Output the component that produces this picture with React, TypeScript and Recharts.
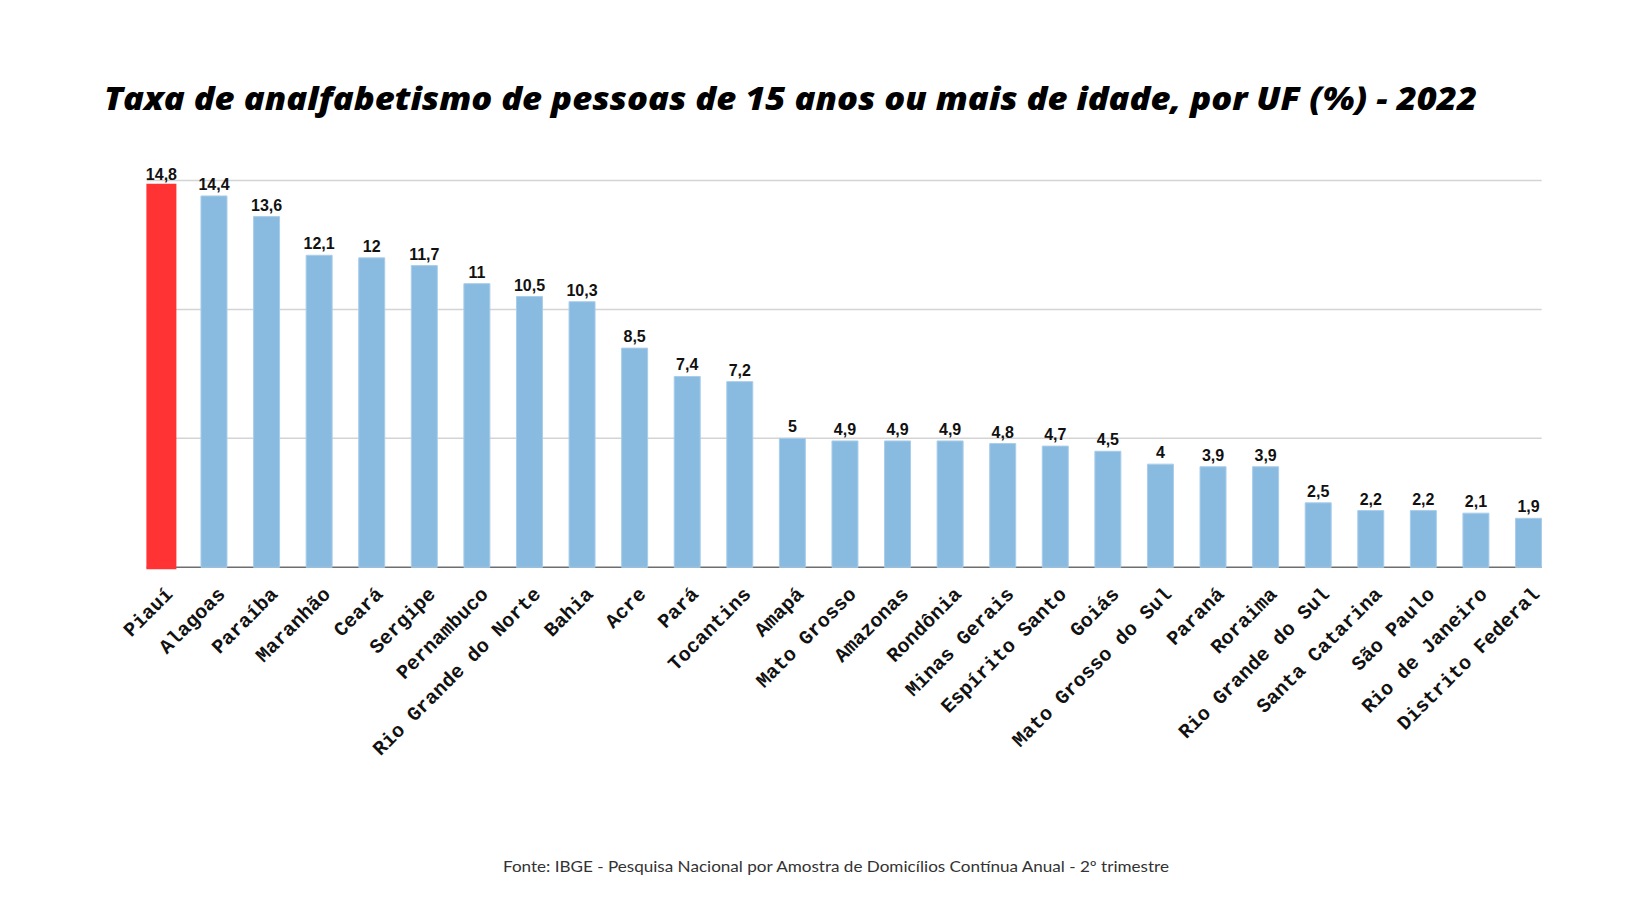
import React from 'react';
import { BarChart, Bar, XAxis, YAxis, CartesianGrid, Cell, LabelList } from 'recharts';

const titulo = 'Taxa de analfabetismo de pessoas de 15 anos ou mais de idade, por UF (%) - 2022';
const fonte = 'Fonte: IBGE -  Pesquisa Nacional por Amostra de Domicílios Contínua Anual - 2º trimestre';

const estados = [
  'Piauí', 'Alagoas', 'Paraíba', 'Maranhão', 'Ceará', 'Sergipe', 'Pernambuco',
  'Rio Grande do Norte', 'Bahia', 'Acre', 'Pará', 'Tocantins', 'Amapá', 'Mato Grosso',
  'Amazonas', 'Rondônia', 'Minas Gerais', 'Espírito Santo', 'Goiás', 'Mato Grosso do Sul',
  'Paraná', 'Roraima', 'Rio Grande do Sul', 'Santa Catarina', 'São Paulo',
  'Rio de Janeiro', 'Distrito Federal',
];

const taxas = [
  14.8, 14.4, 13.6, 12.1, 12, 11.7, 11, 10.5, 10.3, 8.5, 7.4, 7.2, 5, 4.9,
  4.9, 4.9, 4.8, 4.7, 4.5, 4, 3.9, 3.9, 2.5, 2.2, 2.2, 2.1, 1.9,
];

const yTicks = [0, 5, 10, 15];
const destaque = 'Piauí';

const data = estados.map((uf, i) => ({ uf, taxa: taxas[i] }));

const formatTaxa = (v: number) => String(v).replace('.', ',');

function UfTick(props: any) {
  const { x, y, payload } = props;
  const ax = x + 12;
  const ay = y + 28;
  return (
    <text
      x={ax}
      y={ay}
      transform={`rotate(-45, ${ax}, ${ay})`}
      textAnchor="end"
      fill="#111"
      style={{ fontFamily: '"Liberation Mono", monospace', fontSize: '20px', fontWeight: 700 }}
    >
      {payload.value}
    </text>
  );
}

export default function App() {
  return (
    <div style={{ position: 'absolute', left: 0, top: 0, width: 1640, height: 924, background: '#fff' }}>
      <BarChart
        width={1640}
        height={924}
        data={data}
        margin={{ top: 180.5, right: 84.9, left: 135.4, bottom: 206.7 }}
      >
        <CartesianGrid
          x={146.7}
          width={1395}
          vertical={false}
          horizontalValues={[5, 10, 15]}
          stroke="#d4d4d4"
          strokeWidth={1.5}
        />
        <CartesianGrid
          x={146.7}
          width={1395}
          vertical={false}
          horizontalValues={[0]}
          stroke="#6e6e6e"
          strokeWidth={1.5}
        />
        <XAxis
          dataKey="uf"
          interval={0}
          height={150}
          axisLine={false}
          tickLine={false}
          tickSize={0}
          tickMargin={0}
          tick={<UfTick />}
        />
        <YAxis hide domain={[0, 15]} ticks={yTicks} />
        <Bar dataKey="taxa" barSize={26} isAnimationActive={false}>
          {data.map((d) => (
            <Cell
              key={d.uf}
              fill={d.uf === destaque ? '#ff3333' : '#89bbe0'}
              stroke={d.uf === destaque ? '#ff3333' : '#a9cdea'}
              strokeWidth={d.uf === destaque ? 4 : 1}
            />
          ))}
          <LabelList
            dataKey="taxa"
            position="top"
            offset={6}
            formatter={(v: any) => formatTaxa(v)}
            style={{ fontFamily: '"Liberation Sans", Arial, sans-serif', fontSize: '16px', fontWeight: 700, fill: '#111' }}
          />
        </Bar>
      </BarChart>
      <svg
        width={1640}
        height={924}
        style={{ position: 'absolute', left: 0, top: 0, pointerEvents: 'none' }}
      >
        <text
          x={104}
          y={110}
          textLength={1373}
          lengthAdjust="spacingAndGlyphs"
          fill="#000"
          style={{ fontFamily: '"Open Sans", sans-serif', fontSize: '32px', fontWeight: 800, fontStyle: 'italic' }}
        >
          {titulo}
        </text>
        <text
          x={503}
          y={872}
          textLength={666}
          lengthAdjust="spacingAndGlyphs"
          fill="#333"
          style={{ fontFamily: 'Lato, sans-serif', fontSize: '15px' }}
        >
          {fonte}
        </text>
      </svg>
    </div>
  );
}
